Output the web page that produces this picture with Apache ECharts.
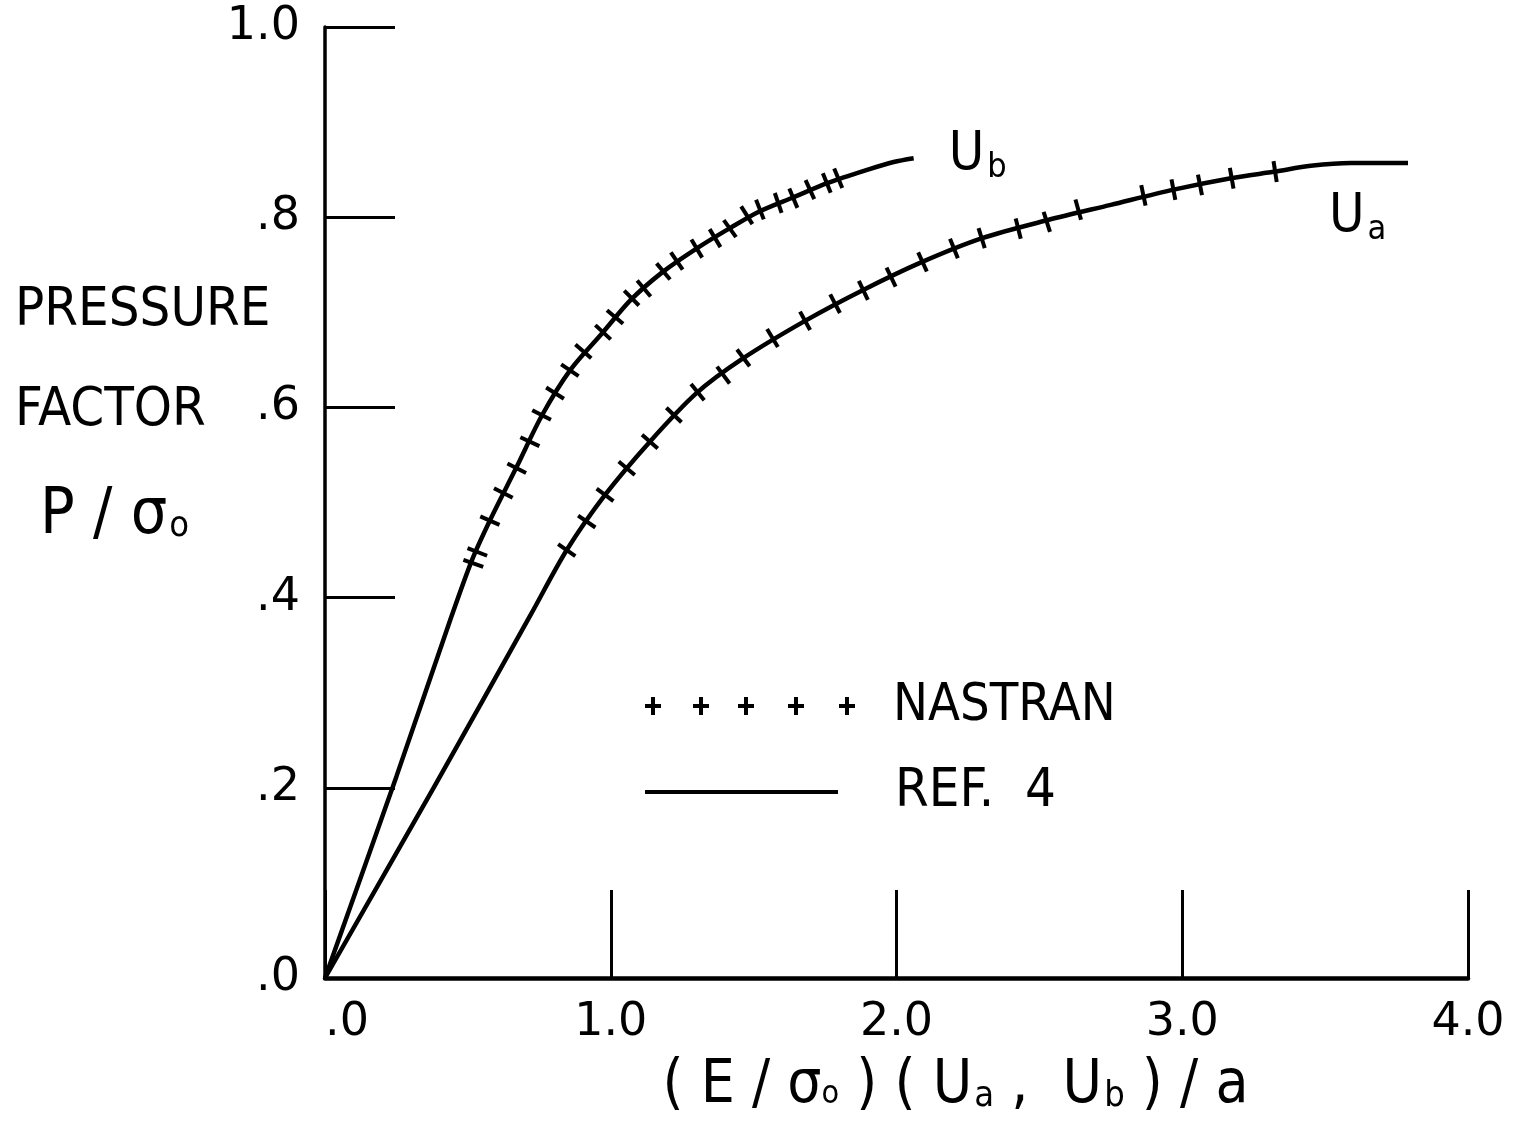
<!DOCTYPE html>
<html>
<head>
<meta charset="utf-8">
<script src="https://cdn.jsdelivr.net/npm/echarts@6/dist/echarts.min.js"></script>
<style>
html, body { margin: 0; padding: 0; background: #fff; }
#chart { width: 1524px; height: 1125px; }
</style>
</head>
<body>
<div id="chart"></div>
<script>
// axis tick labels
var xTickLabels = ['.0', '1.0', '2.0', '3.0', '4.0'];
var yTickLabels = ['.0', '.2', '.4', '.6', '.8', '1.0'];

// REF. 4 curves
var refUbX = [0, 0.25, 0.44, 0.515, 0.58, 0.67, 0.76, 0.86, 0.97, 1.07, 1.18, 1.30, 1.42, 1.52, 1.64, 1.76, 1.90, 1.99, 2.06];
var refUbY = [0, 0.212, 0.378, 0.44, 0.483, 0.537, 0.592, 0.64, 0.678, 0.713, 0.742, 0.767, 0.789, 0.806, 0.821, 0.836, 0.850, 0.858, 0.862];
var refUaX = [0, 0.38, 0.72, 0.846, 0.98, 1.137, 1.30, 1.46, 1.68, 1.88, 2.09, 2.30, 2.53, 2.75, 2.97, 3.17, 3.325, 3.45, 3.59, 3.79];
var refUaY = [0, 0.200, 0.382, 0.450, 0.508, 0.564, 0.615, 0.651, 0.691, 0.723, 0.753, 0.778, 0.797, 0.813, 0.829, 0.841, 0.848, 0.854, 0.857, 0.857];

// NASTRAN points
var nasUbX = [0.519, 0.533, 0.577, 0.624, 0.671, 0.717, 0.758, 0.805, 0.857, 0.904, 0.973, 1.015, 1.073, 1.116, 1.184, 1.231, 1.301, 1.365, 1.417, 1.476, 1.522, 1.586, 1.639, 1.697, 1.756, 1.796];
var nasUbY = [0.436, 0.448, 0.481, 0.510, 0.536, 0.564, 0.592, 0.615, 0.639, 0.659, 0.679, 0.695, 0.715, 0.725, 0.743, 0.754, 0.767, 0.778, 0.788, 0.802, 0.808, 0.815, 0.820, 0.829, 0.836, 0.841];
var nasUaX = [0.846, 0.916, 0.980, 1.056, 1.137, 1.221, 1.304, 1.394, 1.464, 1.566, 1.680, 1.785, 1.884, 1.981, 2.091, 2.201, 2.298, 2.426, 2.526, 2.636, 2.864, 2.969, 3.062, 3.173, 3.325];
var nasUaY = [0.450, 0.480, 0.508, 0.536, 0.564, 0.592, 0.616, 0.634, 0.652, 0.673, 0.691, 0.709, 0.723, 0.737, 0.753, 0.767, 0.778, 0.788, 0.795, 0.808, 0.823, 0.829, 0.834, 0.841, 0.848];

var BLACK = '#000';
var FONT = "'DejaVu Sans', sans-serif";
var HAND = "'DejaVu Sans Condensed', 'DejaVu Sans', sans-serif";

function pairs(xs, ys) {
	var out = [];
	for (var i = 0; i < xs.length; i++) out.push([xs[i], ys[i]]);
	return out;
}

function plusIcon() {
	var centres = [8, 56, 101, 151, 202];
	var p = 'path://';
	centres.forEach(function(c) {
		p += 'M' + (c - 8) + ',7h16v4h-16Z M' + (c - 2) + ',0h4v18h-4Z ';
	});
	return p;
}

var tickMark = 'path://M0,0h4v20h-4Z';

var chart = echarts.init(document.getElementById('chart'));

function refSeries(xs, ys, label, offset) {
	return {
		name: 'REF. 4',
		type: 'line',
		data: pairs(xs, ys),
		showSymbol: false,
		smooth: 0.3,
		color: BLACK,
		lineStyle: { color: BLACK, width: 4.5 },
		z: 2,
		endLabel: {
			show: true,
			align: 'left',
			verticalAlign: 'middle',
			distance: 0,
			offset: offset,
			formatter: '{u|U}{s|' + label + '}',
			rich: {
				u: { fontSize: 54, fontFamily: HAND, color: BLACK, lineHeight: 60 },
				s: { fontSize: 34, fontFamily: HAND, color: BLACK, padding: [26, 0, 0, 3], lineHeight: 60 }
			}
		}
	};
}

function nasSeries(xs, ys) {
	return {
		name: 'NASTRAN',
		type: 'scatter',
		data: pairs(xs, ys),
		symbol: tickMark,
		symbolSize: [4, 21],
		symbolKeepAspect: false,
		color: BLACK,
		itemStyle: { color: BLACK, opacity: 1 },
		z: 3
	};
}

var option = {
	backgroundColor: '#fff',
	animation: false,
	grid: { left: 325, right: 56, top: 27, bottom: 147, outerBoundsMode: 'none' },
	legend: [ {
		data: [ { name: 'NASTRAN', icon: plusIcon() } ],
		left: 645, top: 680, padding: 0, orient: 'vertical',
		itemWidth: 210, itemHeight: 18, selectedMode: false,
		itemStyle: { color: BLACK, borderWidth: 0, opacity: 1 },
		textStyle: { fontSize: 52, fontFamily: HAND, color: BLACK, lineHeight: 50, padding: [0, 0, 0, 33] }
	}, {
		data: [ { name: 'REF. 4', icon: 'path://M0,0h193v4h-193Z' } ],
		left: 645, top: 765, padding: 0, orient: 'vertical',
		itemWidth: 193, itemHeight: 4, selectedMode: false,
		itemStyle: { color: BLACK, borderWidth: 0, opacity: 1 },
		formatter: function(name) { return name.replace(' ', '  '); },
		textStyle: { fontSize: 54, fontFamily: HAND, color: BLACK, lineHeight: 50, padding: [0, 0, 0, 52] }
	} ],
	xAxis: {
		type: 'value', min: 0, max: 4, interval: 1,
		axisLine: { show: true, lineStyle: { color: BLACK, width: 4.5 } },
		axisTick: { show: true, inside: true, length: 88, lineStyle: { color: BLACK, width: 3 } },
		splitLine: { show: false },
		axisLabel: {
			margin: 22, fontSize: 46, fontFamily: FONT, color: BLACK,
			formatter: function(v) {
				var s = xTickLabels[Math.round(v)];
				return v === 0 ? '{z|' + s + '}' : s;
			},
			rich: { z: { fontSize: 46, fontFamily: FONT, color: BLACK, padding: [0, 0, 0, 44] } }
		},
		name: '( E / σ{o|o} ) ( U{s|a} ,  U{s|b} ) / a',
		nameLocation: 'middle', nameGap: 78, nameMoveOverlap: false,
		nameTextStyle: {
			fontSize: 60, fontFamily: HAND, color: BLACK, padding: [0, 0, 0, 118],
			rich: {
				o: { fontSize: 32, fontFamily: HAND, color: BLACK, padding: [18, 0, 0, 0] },
				s: { fontSize: 36, fontFamily: HAND, color: BLACK, padding: [22, 0, 0, 2] }
			}
		}
	},
	yAxis: {
		type: 'value', min: 0, max: 1, interval: 0.2,
		axisLine: { show: true, lineStyle: { color: BLACK, width: 3.5 } },
		axisTick: { show: true, inside: true, length: 70, lineStyle: { color: BLACK, width: 3 } },
		splitLine: { show: false },
		axisLabel: {
			margin: 25, fontSize: 46, fontFamily: FONT, color: BLACK,
			formatter: function(v) { return yTickLabels[Math.round(v * 5)]; }
		},
		name: '{a|PRESSURE}\n{a|FACTOR}\n{b|P / σ}{c|o}',
		nameLocation: 'middle', nameRotate: 0, nameGap: 310, nameMoveOverlap: false,
		nameTextStyle: {
			align: 'left', verticalAlign: 'middle', padding: [0, 0, 172, 0],
			rich: {
				a: { fontSize: 54, fontFamily: HAND, color: BLACK, lineHeight: 100 },
				b: { fontSize: 64, fontFamily: HAND, color: BLACK, lineHeight: 112, padding: [0, 0, 0, 25] },
				c: { fontSize: 36, fontFamily: HAND, color: BLACK, lineHeight: 112, padding: [20, 0, 0, 2] }
			}
		}
	},
	series: [
		refSeries(refUbX, refUbY, 'b', [35, -3]),
		refSeries(refUaX, refUaY, 'a', [-79, 54]),
		nasSeries(nasUbX, nasUbY),
		nasSeries(nasUaX, nasUaY)
	]
};

chart.setOption(option);

// turn every NASTRAN tick so it crosses its curve at a right angle
function rotated(xs, ys) {
	var out = [];
	for (var i = 0; i < xs.length; i++) {
		var a = chart.convertToPixel({ gridIndex: 0 }, [xs[Math.max(i - 1, 0)], ys[Math.max(i - 1, 0)]]);
		var b = chart.convertToPixel({ gridIndex: 0 }, [xs[Math.min(i + 1, xs.length - 1)], ys[Math.min(i + 1, xs.length - 1)]]);
		var ang = Math.atan2(-(b[1] - a[1]), b[0] - a[0]) * 180 / Math.PI;
		out.push({ value: [xs[i], ys[i]], symbolRotate: ang });
	}
	return out;
}

chart.setOption({ series: [ {}, {}, { data: rotated(nasUbX, nasUbY) }, { data: rotated(nasUaX, nasUaY) } ] });
</script>
</body>
</html>
